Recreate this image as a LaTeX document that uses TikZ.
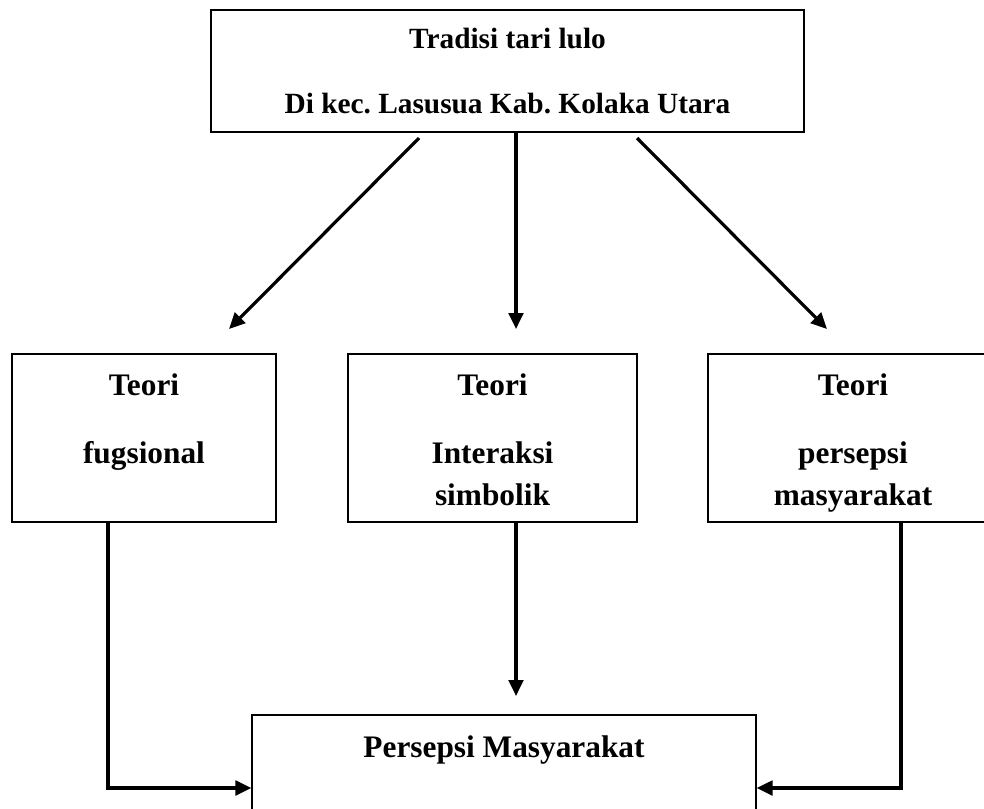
\documentclass[tikz,border=0pt]{standalone}
\usepackage{fontspec}
\setmainfont{Liberation Serif}
\usetikzlibrary{arrows.meta,calc}
\frenchspacing
\begin{document}
\begin{tikzpicture}[x=0.75pt,y=-0.75pt,
  box/.style={draw, line width=0.9pt, inner sep=0pt, rectangle},
  lbl/.style={anchor=base, inner sep=0pt, font=\fontsize{23.5}{28}\selectfont\bfseries},
  toplbl/.style={anchor=base, inner sep=0pt, font=\fontsize{22}{26}\selectfont\bfseries},
  conn/.style={line width=2.4pt, -{Triangle[length=12pt,width=11pt]}},
]
\useasboundingbox (0,0) rectangle (984,808);
% boxes
\node[box, line width=1.6pt, minimum width=444.75pt, minimum height=91.5pt] (top) at (507.5,71) {};
\node[box, minimum width=198pt, minimum height=126pt] (left) at (144,438) {};
\node[box, minimum width=216.75pt, minimum height=126pt] (mid) at (492.5,438) {};
\node[box, minimum width=217.5pt, minimum height=126pt] (right) at (853,438) {};
\node[box, minimum width=378pt, minimum height=90pt] (bottom) at (504,775) {};
% labels
\node[toplbl] (t1) at (507.5,48) {Tradisi tari lulo};
\node[toplbl] (t2) at (507.5,113) {Di kec. Lasusua Kab. Kolaka Utara};
\node[lbl] (l1) at (144,395) {Teori};
\node[lbl] (l2) at (144,463) {fugsional};
\node[lbl] (m1) at (492.5,395) {Teori};
\node[lbl] (m2) at (492.5,463) {Interaksi};
\node[lbl] (m3) at (492.5,505) {simbolik};
\node[lbl] (r1) at (853,395) {Teori};
\node[lbl] (r2) at (853,463) {persepsi};
\node[lbl] (r3) at (853,505) {masyarakat};
\node[lbl] (b1) at (504,757) {Persepsi Masyarakat};
% connector ends
\coordinate (da) at (419,138);
\coordinate (db) at (229,329);
\coordinate (ea) at (637,138);
\coordinate (eb) at (827,329);
\coordinate (mc) at (516,329);
\coordinate (md) at (516,696);
\coordinate (bl) at (108,788);
\coordinate (br) at (901,788);
% connectors
\draw[conn] (da) -- (db);
\draw[conn] (ea) -- (eb);
\draw[conn] (top.south -| mc) -- (mc);
\draw[conn] (mid.south -| md) -- (md);
\draw[conn] (left.south -| bl) -- (bl) -- (bl -| bottom.west);
\draw[conn] (right.south -| br) -- (br) -- (br -| bottom.east);
\end{tikzpicture}
\end{document}
